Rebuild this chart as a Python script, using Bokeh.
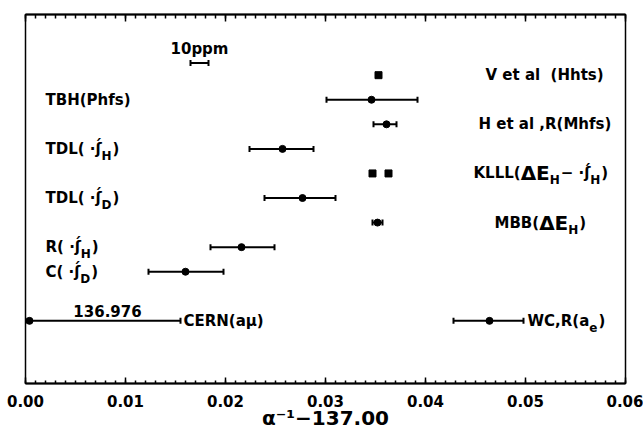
from bokeh.plotting import figure
from bokeh.models import Range1d, LinearAxis, FixedTicker, NumeralTickFormatter
from bokeh.core.properties import value
from bokeh.embed import file_html
from bokeh.resources import INLINE

# ---------------- data ----------------
# measurements with error bars (alpha^-1 - 137.00)
meas_names = ["TBH(Phfs)", "H et al ,R(Mhfs)", "TDL(H)", "TDL(D)", "MBB", "R(H)", "C(D)", "CERN", "WC"]
meas_row = [11, 10, 9, 7, 6, 5, 4, 2, 2]
meas_val = [0.0346, 0.0361, 0.0257, 0.0277, 0.0352, 0.0216, 0.0160, 0.0004, 0.0464]
meas_lo = [0.0301, 0.0348, 0.0224, 0.0239, 0.0347, 0.0185, 0.0123, 0.0000, 0.0428]
meas_hi = [0.0392, 0.0371, 0.0288, 0.0310, 0.0357, 0.0249, 0.0198, 0.0155, 0.0498]
# point-like results drawn as squares
sq_names = ["V et al (Hhts)", "KLLL a", "KLLL b"]
sq_val = [0.0353, 0.0347, 0.0363]
sq_row = [12, 8, 8]
# 10 ppm scale bar
scale_lo = [0.0165]
scale_hi = [0.0183]
scale_row = [12.5]
# axis ticks
x_ticks = [0.00, 0.01, 0.02, 0.03, 0.04, 0.05, 0.06]
x_minor = [round(i * 0.001, 3) for i in range(61)]
tick_labels = ["0.00", "0.01", "0.02", "0.03", "0.04", "0.05", "0.06"]

FONT = "DejaVu Sans"

p = figure(width=643, height=432, x_range=Range1d(0, 0.06), y_range=Range1d(-0.55, 14.47),
           output_backend="svg", toolbar_location=None, y_axis_location=None,
           min_border_left=25, min_border_right=18, min_border_top=14, min_border_bottom=47)
p.grid.grid_line_color = None
p.outline_line_color = "black"
p.outline_line_width = 1.5
p.background_fill_color = "white"
p.border_fill_color = "white"

ticker = FixedTicker(ticks=x_ticks, minor_ticks=x_minor)
ax = p.xaxis[0]
ax.ticker = ticker
ax.formatter = NumeralTickFormatter(format="0.00")
ax.major_tick_in = 6
ax.major_tick_out = 0
ax.minor_tick_in = 3
ax.minor_tick_out = 0
ax.axis_line_width = 2
ax.major_tick_line_width = 1.5
ax.minor_tick_line_width = 1.5
ax.major_label_text_font = FONT
ax.major_label_text_font_style = "bold"
ax.major_label_text_font_size = "15px"
ax.major_label_text_color = "black"
ax.major_label_standoff = 11
ax.axis_label = "\u03b1\u207b\u00b9\u2212137.00"
ax.axis_label_text_font = FONT
ax.axis_label_text_font_style = "bold"
ax.axis_label_text_font_size = "20px"
ax.axis_label_text_color = "black"
ax.axis_label_standoff = -4

top = LinearAxis(ticker=ticker, major_tick_in=7, major_tick_out=0, minor_tick_in=4,
                 minor_tick_out=0, axis_line_width=2, major_tick_line_width=1.5,
                 minor_tick_line_width=1.5, major_label_text_font_size="0px",
                 major_label_text_color=None, major_label_standoff=0)
p.add_layout(top, "above")

# error bars
p.segment(x0=meas_lo, y0=meas_row, x1=meas_hi, y1=meas_row, line_color="black", line_width=2)
p.scatter(x=meas_lo + meas_hi, y=meas_row + meas_row, marker="dash", angle=1.5708, size=6,
          line_color="black", line_width=2)
p.scatter(x=meas_val, y=meas_row, marker="circle", size=7, fill_color="black", line_color="black")
p.scatter(x=sq_val, y=sq_row, marker="square", size=7, fill_color="black", line_color="black")
# scale bar
p.segment(x0=scale_lo, y0=scale_row, x1=scale_hi, y1=scale_row, line_color="black", line_width=2)
p.scatter(x=scale_lo + scale_hi, y=scale_row + scale_row, marker="dash", angle=1.5708, size=6,
          line_color="black", line_width=2)

W = {'T': .682, 'D': .830, 'L': .637, '(': .457, ')': .457, ' ': .348, '\u00a0': .348, '\u00b7': .380,
     '\u0283': .40, '\u0301': 0, 'H': .837, 'R': .770, 'C': .734, 'B': .762, 'E': .683, 'K': .775,
     'M': .995, 'V': .774, 'W': 1.103, 'N': .837, 'P': .733, 'a': .675, 'e': .678, 't': .478,
     'l': .343, 'h': .712, 'f': .435, 's': .595, ',': .380, '\u0394': .774, '\u2212': .838,
     '\u03bc': .721, '.': .380}


def tw(s, size):
    return sum(W.get(c, .696) for c in s) * size


def draw_label(x, y, parts, align="left"):
    off = 0
    for txt, size, sub in parts:
        p.text(x=[x], y=[y], text=[txt], x_offset=off, y_offset=(7 if sub else 0),
               text_font=value(FONT), text_font_style="bold", text_font_size=f"{size}px",
               text_baseline="middle", text_align=align, text_color="black")
        off += tw(txt, size) + (1 if sub else 0)


SJ = "\u00b7\u0283\u0301"
# left labels
draw_label(0.002, 11, [("TBH(Phfs)", 15, False)])
draw_label(0.002, 9, [("TDL( " + SJ, 15, False), ("H", 12, True), (")", 15, False)])
draw_label(0.002, 7, [("TDL( " + SJ, 15, False), ("D", 12, True), (")", 15, False)])
draw_label(0.002, 5, [("R( " + SJ, 15, False), ("H", 12, True), (")", 15, False)])
draw_label(0.002, 4, [("C( " + SJ, 15, False), ("D", 12, True), (")", 15, False)])
# right labels
draw_label(0.0460, 12, [("V et al\u00a0 (Hhts)", 15, False)])
draw_label(0.0453, 10, [("H et al ,R(Mhfs)", 15, False)])
draw_label(0.0448, 8, [("KLLL(", 15, False), ("\u0394E", 20, False), ("H", 12, True),
                       ("\u2212 " + SJ, 15, False), ("H", 12, True), (")", 15, False)])
draw_label(0.0469, 6, [("MBB(", 15, False), ("\u0394E", 20, False), ("H", 12, True), (")", 15, False)])
draw_label(0.0502, 2, [("WC,R(a", 15, False), ("e", 12, True), (")", 15, False)])
draw_label(0.0158, 2, [("CERN(a\u03bc)", 15, False)])
# annotations
p.text(x=[0.0082], y=[2], text=["136.976"], y_offset=-10, text_font=value(FONT),
       text_font_style="bold", text_font_size="15px", text_baseline="middle",
       text_align="center", text_color="black")
p.text(x=[0.0174], y=scale_row, text=["10ppm"], y_offset=-14, text_font=value(FONT),
       text_font_style="bold", text_font_size="15px", text_baseline="middle",
       text_align="center", text_color="black")

open("out.html", "w").write(file_html(p, INLINE))
